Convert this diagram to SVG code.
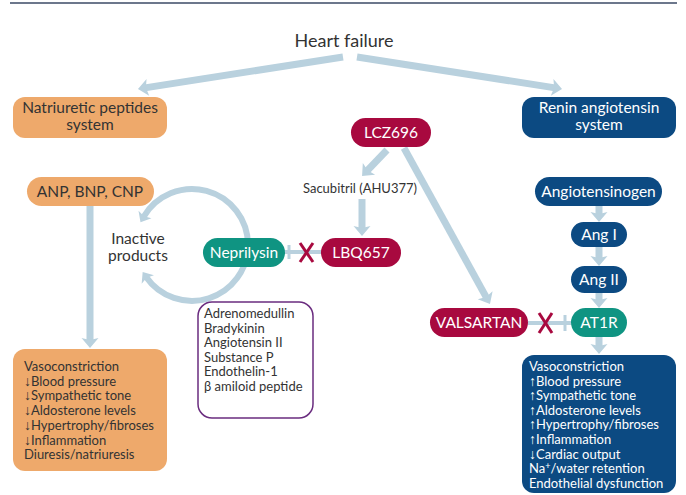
<svg xmlns="http://www.w3.org/2000/svg" width="686" height="495" viewBox="0 0 686 495">
<style>
text{font-family:Lato,"Noto Sans","DejaVu Sans",sans-serif;}
.t15{font-size:15.5px;}
.dk{fill:#333333;}
.wh{fill:#ffffff;}
.mid{text-anchor:middle;}
.lst{font-size:13px;}
.ar{font-family:"Liberation Sans","DejaVu Sans",sans-serif;font-size:14px;}
.orange{fill:#eea96b;}
.navy{fill:#0c4a82;}
.crim{fill:#a8093f;}
.teal{fill:#0f9482;}
.conn{stroke:#b9d1de;stroke-width:7;fill:none;marker-end:url(#ah);}
.arc{stroke:#b9d1de;stroke-width:6;fill:none;marker-end:url(#ah2);}
.inh{stroke:#b9d1de;stroke-width:4;fill:none;}
.bar{stroke:#b9d1de;stroke-width:3;fill:none;}
.x{stroke:#a8093f;stroke-width:3;fill:none;}
</style>
<defs>
<marker id="ah" markerUnits="userSpaceOnUse" markerWidth="20" markerHeight="20" refX="0" refY="0" orient="auto" overflow="visible">
<path d="M7,0 L-3,-8.5 L-1,0 L-3,8.5 Z" fill="#b9d1de"/>
</marker>
<marker id="ah2" markerUnits="userSpaceOnUse" markerWidth="20" markerHeight="20" refX="0" refY="0" orient="auto" overflow="visible">
<path d="M6,0 L-3,-7.5 L-1,0 L-3,7.5 Z" fill="#b9d1de"/>
</marker>
</defs>
<line x1="10" y1="3" x2="677" y2="3" stroke="#3b4a66" stroke-width="1.5"/>
<g id="connectors">
<path class="conn" d="M343,57 L144.9,87.9"/>
<path class="conn" d="M357,57 L555.1,87.9"/>
<path class="conn" d="M387,150 L366.9,171"/>
<path class="conn" d="M362,199 L362,229"/>
<path class="conn" d="M404,148 L486.6,297.9"/>
<path class="conn" d="M90,206 L90,341"/>
<path class="conn" d="M599,206 L599,215"/>
<path class="conn" d="M599,247 L599,259"/>
<path class="conn" d="M599,293 L599,301"/>
<path class="conn" d="M599,337 L599,347"/>
<path class="arc" d="M248,245 A56,56 0 0 0 143.5,217"/>
<path class="arc" d="M248,245 A56,56 0 0 1 146.1,277"/>
<line class="inh" x1="285" y1="252" x2="321" y2="252"/>
<line class="bar" x1="289" y1="245" x2="289" y2="259"/>
<line class="x" x1="300" y1="243" x2="313" y2="262"/>
<line class="x" x1="313" y1="243" x2="300" y2="262"/>
<line class="inh" x1="528" y1="323" x2="571" y2="323"/>
<line class="bar" x1="565" y1="315" x2="565" y2="331"/>
<line class="x" x1="539" y1="313" x2="552" y2="333"/>
<line class="x" x1="552" y1="313" x2="539" y2="333"/>
</g>
<g id="heart-failure"><text x="344" y="47" class="dk mid" font-size="18">Heart failure</text></g>
<g id="natriuretic">
<rect x="13" y="97" width="154" height="41" rx="12" class="orange"/>
<text x="90" y="113" class="t15 dk mid">Natriuretic peptides</text>
<text x="90" y="130" class="t15 dk mid">system</text>
</g>
<g id="renin">
<rect x="522" y="97" width="154" height="41" rx="12" class="navy"/>
<text x="599" y="113" class="t15 wh mid">Renin angiotensin</text>
<text x="599" y="130" class="t15 wh mid">system</text>
</g>
<g id="lcz696">
<rect x="351" y="118" width="80" height="29" rx="14.5" class="crim"/>
<text x="391" y="138" class="t15 wh mid">LCZ696</text>
</g>
<g id="sacubitril"><text x="360" y="193" class="dk mid" font-size="13">Sacubitril (AHU377)</text></g>
<g id="anp">
<rect x="27" y="177" width="127" height="29" rx="14.5" class="orange"/>
<text x="90" y="197" class="t15 dk mid">ANP, BNP, CNP</text>
</g>
<g id="inactive">
<text x="138" y="244" class="t15 dk mid">Inactive</text>
<text x="138" y="261" class="t15 dk mid">products</text>
</g>
<g id="neprilysin">
<rect x="203" y="238" width="82" height="29" rx="14.5" class="teal"/>
<text x="244" y="258" class="t15 wh mid">Neprilysin</text>
</g>
<g id="lbq657">
<rect x="321" y="238" width="80" height="29" rx="14.5" class="crim"/>
<text x="361" y="258" class="t15 wh mid">LBQ657</text>
</g>
<g id="angiotensinogen">
<rect x="535" y="177" width="127" height="29" rx="14.5" class="navy"/>
<text x="598.5" y="197" class="t15 wh mid">Angiotensinogen</text>
</g>
<g id="ang1">
<rect x="571" y="222" width="56" height="25" rx="12.5" class="navy"/>
<text x="599" y="240" class="t15 wh mid">Ang I</text>
</g>
<g id="ang2">
<rect x="571" y="266" width="56" height="27" rx="13.5" class="navy"/>
<text x="599" y="285" class="t15 wh mid">Ang II</text>
</g>
<g id="valsartan">
<rect x="430" y="308" width="98" height="29" rx="14.5" class="crim"/>
<text x="479" y="328" class="t15 wh mid">VALSARTAN</text>
</g>
<g id="at1r">
<rect x="571" y="308" width="56" height="29" rx="14.5" class="teal"/>
<text x="599" y="328" class="t15 wh mid">AT1R</text>
</g>
<g id="substrates">
<rect x="198" y="302" width="115" height="116" rx="14" fill="#ffffff" stroke="#6a2c7f" stroke-width="1.5"/>
<text class="lst dk" x="204" y="318">Adrenomedullin</text>
<text class="lst dk" x="204" y="332.6">Bradykinin</text>
<text class="lst dk" x="204" y="347.2">Angiotensin II</text>
<text class="lst dk" x="204" y="361.8">Substance P</text>
<text class="lst dk" x="204" y="376.4">Endothelin-1</text>
<text class="lst dk" x="204" y="391">β amiloid peptide</text>
</g>
<g id="np-effects">
<rect x="13" y="349" width="154" height="122" rx="12" class="orange"/>
<text class="lst dk" x="24" y="371">Vasoconstriction</text>
<text class="lst dk" x="24" y="385.7"><tspan class="ar">↓</tspan>Blood pressure</text>
<text class="lst dk" x="24" y="400.4"><tspan class="ar">↓</tspan>Sympathetic tone</text>
<text class="lst dk" x="24" y="415.1"><tspan class="ar">↓</tspan>Aldosterone levels</text>
<text class="lst dk" x="24" y="429.8"><tspan class="ar">↓</tspan>Hypertrophy/fibroses</text>
<text class="lst dk" x="24" y="444.5"><tspan class="ar">↓</tspan>Inflammation</text>
<text class="lst dk" x="24" y="459.2">Diuresis/natriuresis</text>
</g>
<g id="ras-effects">
<rect x="522" y="355" width="154" height="138" rx="12" class="navy"/>
<text class="lst wh" x="529" y="371">Vasoconstriction</text>
<text class="lst wh" x="529" y="385.6"><tspan class="ar">↑</tspan>Blood pressure</text>
<text class="lst wh" x="529" y="400.2"><tspan class="ar">↑</tspan>Sympathetic tone</text>
<text class="lst wh" x="529" y="414.8"><tspan class="ar">↑</tspan>Aldosterone levels</text>
<text class="lst wh" x="529" y="429.4"><tspan class="ar">↑</tspan>Hypertrophy/fibroses</text>
<text class="lst wh" x="529" y="444"><tspan class="ar">↑</tspan>Inflammation</text>
<text class="lst wh" x="529" y="458.6"><tspan class="ar">↓</tspan>Cardiac output</text>
<text class="lst wh" x="529" y="473.2">Na<tspan font-size="9" dy="-4">+</tspan><tspan dy="4">/water retention</tspan></text>
<text class="lst wh" x="529" y="487.8">Endothelial dysfunction</text>
</g>
</svg>
